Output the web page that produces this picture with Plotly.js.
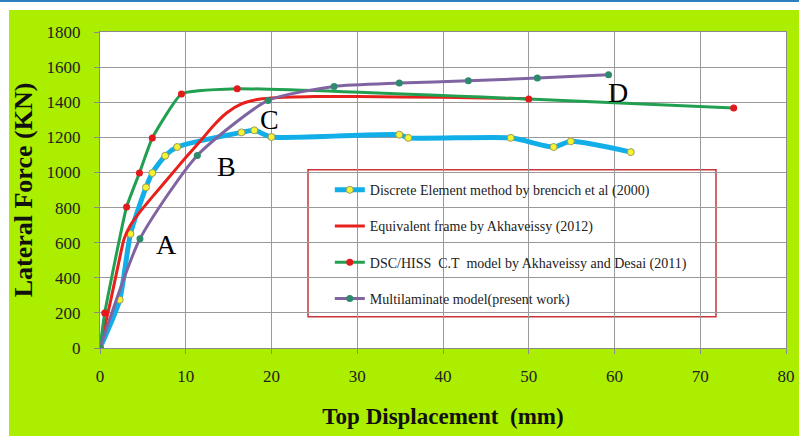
<!DOCTYPE html>
<html>
<head>
<meta charset="utf-8">
<script src="https://cdn.plot.ly/plotly-3.0.1.min.js"></script>
<style>
  html, body { margin: 0; padding: 0; background: #ffffff; width: 799px; height: 436px; overflow: hidden; }
  #topline { position: absolute; left: 0; top: 0; width: 799px; height: 2px; background: #2e7fc0; }
  #chart { position: absolute; left: 9px; top: 10px; width: 790px; height: 426px; }
</style>
</head>
<body>
<div id="topline"></div>
<div id="chart"></div>
<script>
// ---- data ----
const seriesNames = [
  "Discrete Element method by brencich et al (2000)",
  "Equivalent frame by Akhaveissy (2012)",
  "DSC/HISS  C.T  model by Akhaveissy and Desai (2011)",
  "Multilaminate model(present work)"
];

const demX = [0, 2.3, 3.55, 5.36, 6.1, 7.6, 9.0, 16.5, 18.0, 20.0, 34.9, 35.95, 47.9, 52.9, 54.9, 61.9];
const demY = [0, 275, 650, 915, 997, 1095, 1145, 1228, 1240, 1202, 1215, 1197, 1197, 1145, 1177, 1116];

const efX = [0, 1.2, 2.2, 2.8, 3.5, 4.5, 6, 8, 10, 12, 13.2, 14.8, 16.5, 18.2, 20, 25, 30, 40, 50];
const efY = [0, 260, 490, 620, 695, 765, 855, 970, 1085, 1196, 1265, 1340, 1390, 1414, 1424, 1432, 1432, 1428, 1420];

const dscX = [0, 0.55, 3.1, 4.6, 6.1, 9.5, 16.0, 50.0, 73.9];
const dscY = [0, 199, 803, 997, 1196, 1447, 1477, 1418, 1367];

const mlX = [0, 4.66, 11.35, 19.6, 27.3, 34.9, 42.95, 51.0, 59.3];
const mlY = [0, 622, 1097, 1410, 1490, 1509, 1522, 1538, 1557];

const xTicks = [0, 10, 20, 30, 40, 50, 60, 70, 80];
const yTicks = [0, 200, 400, 600, 800, 1000, 1200, 1400, 1600, 1800];

const labels = ["A", "B", "C", "D"];
const labelX = [7.7, 14.7, 19.8, 60.4];
const labelY = [588, 1033, 1300, 1454];

// ---- traces ----
const serif = "'Liberation Serif', 'Times New Roman', serif";

const traces = [
  {
    x: demX, y: demY, name: seriesNames[0], type: "scatter", mode: "lines+markers",
    legendgroup: "g1",
    line: { color: "#12aee8", width: 5, shape: "spline", smoothing: 0.6 },
    marker: { color: "#f4f432", size: 7, line: { color: "#9a9a60", width: 1 } }
  },
  {
    x: efX, y: efY, name: seriesNames[1], type: "scatter", mode: "lines",
    legendgroup: "g2",
    line: { color: "#e8201c", width: 3, shape: "spline", smoothing: 0.6 }
  },
  {
    x: dscX, y: dscY, name: seriesNames[2], type: "scatter", mode: "lines+markers",
    legendgroup: "g3",
    line: { color: "#22a052", width: 3, shape: "spline", smoothing: 0.4 },
    marker: { color: "#e31a1c", size: 7 }
  },
  {
    x: mlX, y: mlY, name: seriesNames[3], type: "scatter", mode: "lines+markers",
    legendgroup: "g4",
    line: { color: "#8064a2", width: 3, shape: "spline", smoothing: 0.6 },
    marker: { color: "#2e8a6c", size: 7 }
  }
];

const annotations = labels.map((t, i) => ({
  x: labelX[i], y: labelY[i], xref: "x", yref: "y", text: t, showarrow: false,
  font: { family: serif, size: 28, color: "#000000" }
}));

const layout = {
  width: 790, height: 426,
  paper_bgcolor: "#abee00",
  plot_bgcolor: "#ffffff",
  margin: { l: 91, r: 13, t: 22, b: 88 },
  showlegend: true,
  legend: {
    x: 0.335, y: 0.55, xanchor: "left", yanchor: "top",
    bgcolor: "rgba(0,0,0,0)", borderwidth: 0,
    font: { family: serif, size: 14, color: "#222222" },
    tracegroupgap: 15, itemwidth: 30
  },
  xaxis: {
    range: [0, 80], tickvals: xTicks, ticktext: xTicks.map(String),
    showgrid: true, gridcolor: "#9a9a9a", gridwidth: 1,
    zeroline: false, showline: true, linecolor: "#8a8a8a", linewidth: 1, mirror: true,
    ticks: "outside", ticklen: 5, tickcolor: "#8a8a8a",
    ticklabelstandoff: 8,
    tickfont: { family: serif, size: 17, color: "#222222" },
    title: { text: "<b>Top Displacement  (mm)</b>", font: { family: serif, size: 23, color: "#111111" }, standoff: 22 }
  },
  yaxis: {
    range: [0, 1800], tickvals: yTicks, ticktext: yTicks.map(String),
    showgrid: true, gridcolor: "#9a9a9a", gridwidth: 1,
    zeroline: false, showline: true, linecolor: "#8a8a8a", linewidth: 1, mirror: true,
    ticks: "outside", ticklen: 5, tickcolor: "#8a8a8a",
    ticklabelstandoff: 10,
    tickfont: { family: serif, size: 17, color: "#222222" },
    title: { text: "<b>Lateral Force (KN)</b>", font: { family: serif, size: 26, color: "#111111" }, standoff: 7 }
  },
  shapes: [
    {
      type: "rect", xref: "paper", yref: "paper", layer: "between",
      x0: (308 - 100) / 686, x1: (716 - 100) / 686,
      y0: (348.3 - 317) / 316.3, y1: (348.3 - 170) / 316.3,
      fillcolor: "#ffffff", line: { color: "#c8353a", width: 1.5 }
    }
  ],
  annotations: annotations
};

Plotly.newPlot("chart", traces, layout, { displayModeBar: false, staticPlot: true });
</script>
</body>
</html>
